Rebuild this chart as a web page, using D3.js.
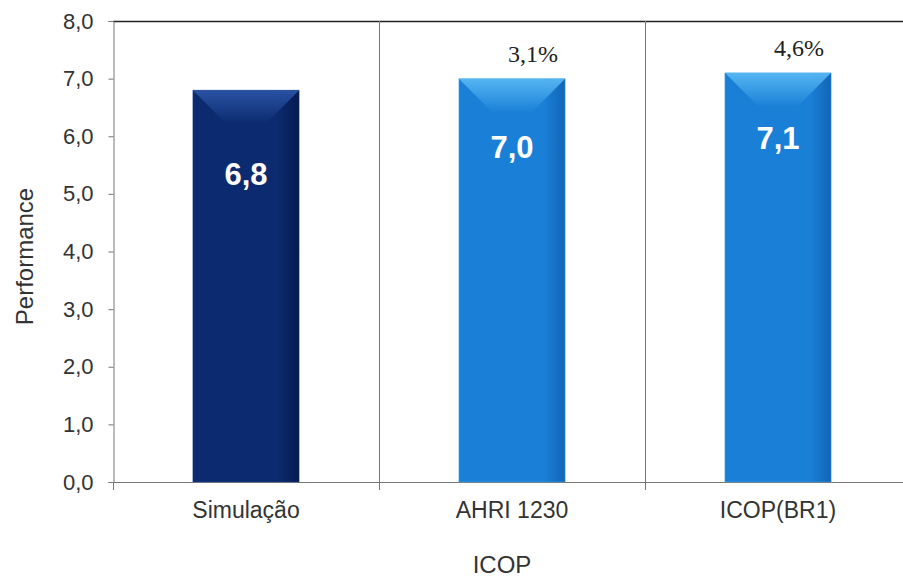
<!DOCTYPE html>
<html>
<head>
<meta charset="utf-8">
<script src="https://cdn.jsdelivr.net/npm/d3@7/dist/d3.min.js"></script>
<style>
  html, body { margin: 0; padding: 0; background: #fff; }
  svg { display: block; }
  text { font-family: "Liberation Sans", Arial, sans-serif; }
</style>
</head>
<body>
<svg id="chart" width="903" height="578"></svg>
<script>
// Data
const categories = ["Simulação", "AHRI 1230", "ICOP(BR1)"];
const values = [6.8, 7.0, 7.1];
const valueLabels = ["6,8", "7,0", "7,1"];
const pctLabels = [null, "3,1%", "4,6%"];
const yTicks = [0, 1, 2, 3, 4, 5, 6, 7, 8];
const yTickLabels = ["0,0", "1,0", "2,0", "3,0", "4,0", "5,0", "6,0", "7,0", "8,0"];

const svg = d3.select("#chart");
const W = 903, H = 578;
const margin = { left: 113, top: 21, right: -8, bottom: 96 };
const x0 = margin.left, x1 = W - margin.right;
const yTop = margin.top, yBot = H - margin.bottom;

const x = d3.scaleBand().domain(categories).range([x0, x1]).paddingInner(0).paddingOuter(0);
const y = d3.scaleLinear().domain([0, 8]).range([yBot, yTop]);

// bar palettes: [body, light top, dark edge]
const palettes = [
  { body: "#0b2a6f", light: "#2d57a8", dark: "#061b4f" },
  { body: "#1a80d7", light: "#5cbcf5", dark: "#1265b6" },
  { body: "#1a80d7", light: "#5cbcf5", dark: "#1265b6" }
];

const defs = svg.append("defs");
palettes.forEach((p, i) => {
  const h = defs.append("linearGradient").attr("id", "body" + i)
    .attr("x1", 0).attr("x2", 1).attr("y1", 0).attr("y2", 0);
  h.append("stop").attr("offset", 0).attr("stop-color", p.body);
  h.append("stop").attr("offset", 0.12).attr("stop-color", p.body);
  h.append("stop").attr("offset", 0.8).attr("stop-color", p.body);
  h.append("stop").attr("offset", 1).attr("stop-color", p.dark);
  const v = defs.append("linearGradient").attr("id", "top" + i)
    .attr("x1", 0).attr("x2", 0).attr("y1", 0).attr("y2", 1);
  v.append("stop").attr("offset", 0).attr("stop-color", p.light);
  v.append("stop").attr("offset", 1).attr("stop-color", p.body);
});

// frame: top line, separators between categories, axes
svg.append("line").attr("x1", x0).attr("x2", W).attr("y1", yTop + 0.5).attr("y2", yTop + 0.5)
  .attr("stroke", "#222").attr("stroke-width", 1.5);

categories.slice(1).forEach(c => {
  const xv = Math.round(x(c)) + 0.5;
  svg.append("line").attr("x1", xv).attr("x2", xv).attr("y1", yTop).attr("y2", yBot + 8)
    .attr("stroke", "#777").attr("stroke-width", 1);
});

// y axis
const yAxis = d3.axisLeft(y).tickValues(yTicks).tickSize(5).tickPadding(15)
  .tickFormat((d, i) => yTickLabels[i]);
const gy = svg.append("g").attr("transform", `translate(${x0 + 0.5},0)`).call(yAxis);
gy.select(".domain").attr("stroke", "#777");
gy.selectAll(".tick line").attr("stroke", "#777");
gy.selectAll(".tick text").attr("fill", "#333").style("font-size", "22px");

// x baseline with boundary ticks
svg.append("line").attr("x1", x0).attr("x2", W).attr("y1", yBot + 0.5).attr("y2", yBot + 0.5)
  .attr("stroke", "#777");
svg.append("line").attr("x1", x0 + 0.5).attr("x2", x0 + 0.5).attr("y1", yBot).attr("y2", yBot + 8)
  .attr("stroke", "#777");

// x category labels
const xAxis = d3.axisBottom(x).tickSize(0).tickPadding(20);
const gx = svg.append("g").attr("transform", `translate(0,${yBot})`).call(xAxis);
gx.select(".domain").remove();
gx.selectAll(".tick text").attr("fill", "#333").style("font-size", "23px");

// bars
const barW = x.bandwidth() * 0.4;
const bevel = 34;
categories.forEach((c, i) => {
  const bx = x(c) + (x.bandwidth() - barW) / 2;
  const by = y(values[i]);
  const bh = y(0) - by;
  const g = svg.append("g");
  g.append("rect").attr("x", bx).attr("y", by).attr("width", barW).attr("height", bh)
    .attr("fill", `url(#body${i})`);
  g.append("path")
    .attr("d", `M${bx},${by} L${bx + barW},${by} L${bx + barW - bevel},${by + bevel} L${bx + bevel},${by + bevel} Z`)
    .attr("fill", `url(#top${i})`).attr("opacity", 0.9);
  // thin edge highlight
  g.append("rect").attr("x", bx).attr("y", by).attr("width", barW).attr("height", bh)
    .attr("fill", "none").attr("stroke", palettes[i].light).attr("stroke-opacity", 0.35).attr("stroke-width", 1);
});

// value labels inside bars
const labelDrop = [95, 79, 76];
categories.forEach((c, i) => {
  svg.append("text")
    .attr("x", x(c) + x.bandwidth() / 2)
    .attr("y", y(values[i]) + labelDrop[i])
    .attr("text-anchor", "middle")
    .attr("fill", "#fff")
    .style("font-size", "31px")
    .style("font-weight", "bold")
    .text(valueLabels[i]);
});

// percentage labels above bars
categories.forEach((c, i) => {
  if (!pctLabels[i]) return;
  svg.append("text")
    .attr("x", x(c) + x.bandwidth() / 2 + 21)
    .attr("y", y(values[i]) - 17)
    .attr("text-anchor", "middle")
    .attr("fill", "#222")
    .style("font-family", "'Liberation Serif', 'Times New Roman', serif")
    .style("font-size", "24px")
    .text(pctLabels[i]);
});

// axis titles
svg.append("text")
  .attr("transform", `translate(33,${(yTop + yBot) / 2 + 5}) rotate(-90)`)
  .attr("text-anchor", "middle")
  .attr("fill", "#333")
  .style("font-size", "24px")
  .text("Performance");

svg.append("text")
  .attr("x", x(categories[1]) + x.bandwidth() / 2 - 10)
  .attr("y", 573)
  .attr("text-anchor", "middle")
  .attr("fill", "#333")
  .style("font-size", "24px")
  .text("ICOP");
</script>
</body>
</html>
